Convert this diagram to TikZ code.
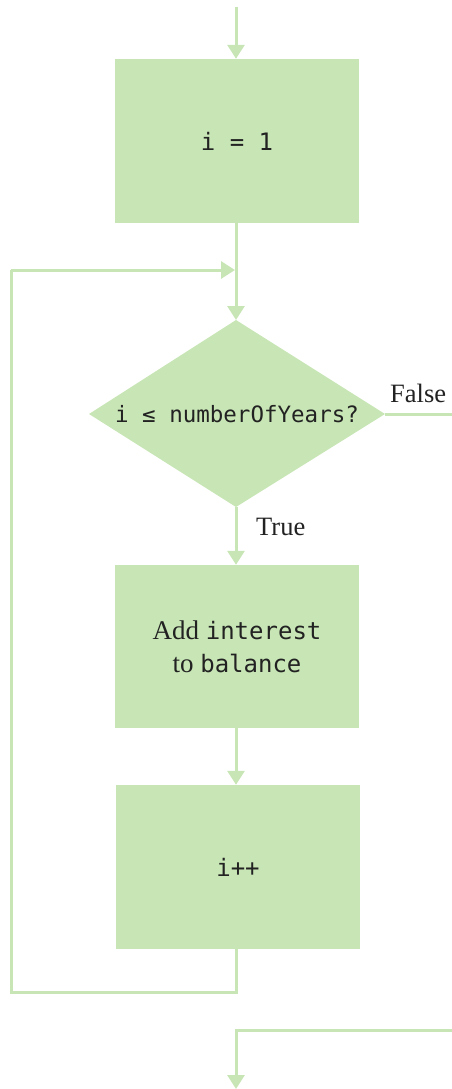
\documentclass[tikz,border=0pt]{standalone}
\usepackage{fontspec}
\setmainfont{Liberation Serif}
\newfontfamily\monof{DejaVu Sans Mono}
\usetikzlibrary{arrows.meta}
\definecolor{flowgreen}{RGB}{200,230,181}
\definecolor{inkc}{RGB}{34,34,34}
\tikzset{
  procbox/.style={fill=flowgreen, draw=none, minimum width=244pt, minimum height=164pt, inner sep=0pt, text=inkc, font=\fontsize{27}{33}\selectfont, align=center},
  dectext/.style={inner sep=0pt, text=inkc, font=\monof\fontsize{22.5}{27}\selectfont},
  flowline/.style={draw=flowgreen, line width=3pt},
  flowarrow/.style={flowline, -{Triangle[width=17pt,length=14pt]}},
  lbl/.style={text=inkc, font=\fontsize{26.5}{30}\selectfont, inner sep=0pt}
}
\begin{document}
\begin{tikzpicture}[x=1pt,y=-1pt]
\useasboundingbox (0,0) rectangle (452,1089);
\node[procbox] (init) at (237,141) {\monof\fontsize{24}{30}\selectfont i = 1};
% decision diamond
\coordinate (condN) at (236,320);
\coordinate (condE) at (385,414);
\coordinate (condS) at (236,507);
\coordinate (condW) at (89,414);
\fill[flowgreen] (condN) -- (condE) -- (condS) -- (condW) -- cycle;
\node[dectext] (cond) at (237,414) {i ≤ numberOfYears?};
\node[procbox, minimum height=163pt] (add) at (237,646.5) {Add {\monof\fontsize{24}{33}\selectfont interest}\\to {\monof\fontsize{24}{33}\selectfont balance}};
\node[procbox] (inc) at (238,867) {\monof\fontsize{24}{30}\selectfont i++};
\coordinate (start) at (236,7);
\coordinate (loopbl) at (11,992);
\coordinate (looptl) at (11,270);
\coordinate (mergept) at (235,270);
\coordinate (falseend) at (452,414);
\coordinate (exitstart) at (452,1030);
\coordinate (exitend) at (236,1089);
\draw[flowarrow] (start) -- (start |- init.north);
\draw[flowarrow] (init.south -| condN) -- (condN);
\draw[flowarrow] (condS) -- (condS |- add.north);
\draw[flowarrow] (add.south -| condN) -- (inc.north -| condN);
\draw[flowline] (inc.south -| condN) |- (loopbl) -- (looptl);
\draw[flowarrow] (looptl) -- (mergept);
\draw[flowline] (condE) -- (falseend);
\draw[flowarrow] (exitstart) -| (exitend);
\node[lbl, anchor=base west] (falselbl) at (390,402) {False};
\node[lbl, anchor=base west] (truelbl) at (256,535) {True};
\end{tikzpicture}
\end{document}
